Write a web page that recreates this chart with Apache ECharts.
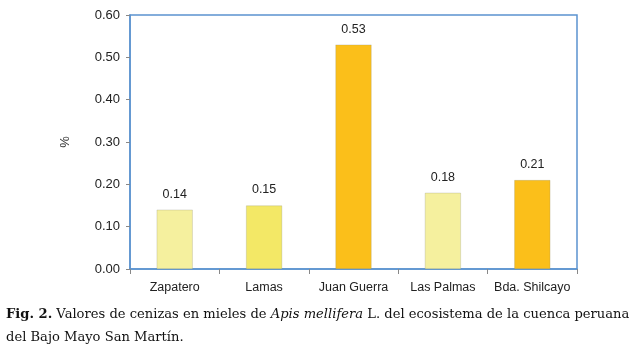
<!DOCTYPE html>
<html>
<head>
<meta charset="utf-8">
<script src="https://cdn.jsdelivr.net/npm/echarts@6/dist/echarts.min.js"></script>
<style>
html,body{margin:0;padding:0;background:#fff;}
#chart{width:638px;height:356px;}
</style>
</head>
<body>
<div id="chart"></div>
<script>
const categories = ['Zapatero', 'Lamas', 'Juan Guerra', 'Las Palmas', 'Bda. Shilcayo'];
const values = [0.14, 0.15, 0.53, 0.18, 0.21];
const barColors = ['#F5F09E', '#F3E866', '#FBBF1A', '#F5F09E', '#FBBF1A'];
const yTicks = [0, 0.1, 0.2, 0.3, 0.4, 0.5, 0.6];

const chart = echarts.init(document.getElementById('chart'), null, {renderer: 'canvas'});
const axisFont = 'Liberation Sans, Arial, sans-serif';
const capFont = 'DejaVu Serif, serif';
chart.setOption({
  animation: false,
  backgroundColor: '#ffffff',
  grid: {
    left: 130, right: 61, top: 15, bottom: 87,
    show: true, borderColor: '#5B93CF', borderWidth: 1.5, backgroundColor: 'transparent'
  },
  xAxis: {
    type: 'category',
    data: categories,
    axisLine: {lineStyle: {color: '#5B93CF', width: 1.5}},
    axisTick: {show: true, length: 5, lineStyle: {color: '#888888'}},
    axisLabel: {color: '#222222', fontSize: 12.5, fontFamily: axisFont, margin: 12, interval: 0}
  },
  yAxis: {
    type: 'value',
    min: yTicks[0], max: yTicks[yTicks.length - 1], interval: 0.1,
    name: '%',
    nameLocation: 'middle',
    nameGap: 58,
    nameRotate: 90,
    nameTextStyle: {color: '#333333', fontSize: 13, fontFamily: axisFont},
    axisLine: {show: true, lineStyle: {color: '#5B93CF', width: 1.5}},
    axisTick: {show: true, length: 4, lineStyle: {color: '#888888'}},
    splitLine: {show: false},
    axisLabel: {
      color: '#222222', fontSize: 13, fontFamily: axisFont, margin: 10,
      formatter: v => v.toFixed(2)
    }
  },
  series: [{
    type: 'bar',
    data: values.map((v, i) => ({value: v, itemStyle: {color: barColors[i]}})),
    barWidth: 36,
    itemStyle: {borderColor: 'rgba(140,140,120,0.5)', borderWidth: 0.5},
    label: {
      show: true, position: 'top', distance: 9,
      color: '#222222', fontSize: 12.5, fontFamily: axisFont,
      formatter: p => p.value.toFixed(2)
    }
  }],
  graphic: [{
    type: 'text',
    left: 6,
    top: 303,
    style: {
      text: '{b|Fig. 2.} Valores de cenizas en mieles de {i|Apis mellifera} L. del ecosistema de la cuenca peruana\ndel Bajo Mayo San Martín.',
      fontFamily: capFont,
      fontSize: 13.1,
      lineHeight: 23,
      fill: '#111111',
      rich: {
        b: {fontWeight: 'bold', fontFamily: capFont, fontSize: 13.1, fill: '#111111', lineHeight: 23},
        i: {fontStyle: 'italic', fontFamily: capFont, fontSize: 13.1, fill: '#111111', lineHeight: 23}
      }
    }
  }]
});
</script>
</body>
</html>
